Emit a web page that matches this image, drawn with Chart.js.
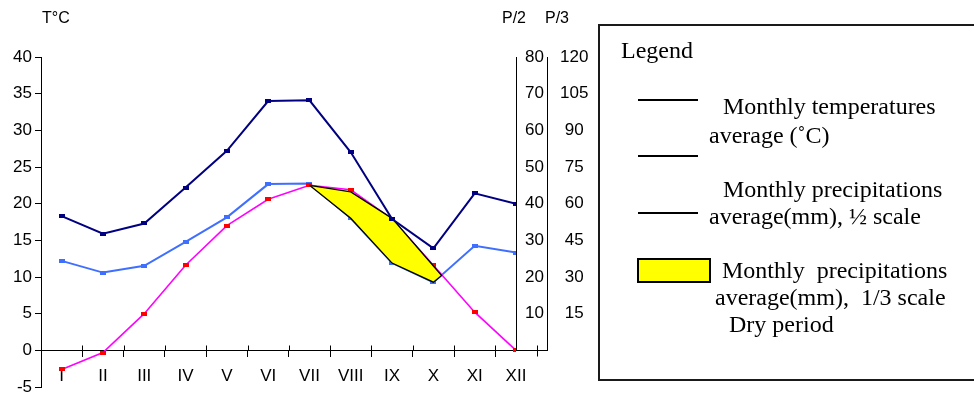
<!DOCTYPE html>
<html>

<head>
    <title>Climate diagram</title>
    <script src="https://cdn.jsdelivr.net/npm/chart.js"></script>
    <style>
        body {
            margin: 0;
            background: #fff;
            overflow: hidden;
        }

        #wrap {
            position: relative;
            width: 974px;
            height: 395px;
        }

        #climate {
            position: absolute;
            left: 0;
            top: 0;
        }

        .axisTitle {
            position: absolute;
            font: 16px "Liberation Sans", Arial, sans-serif;
            line-height: 16px;
            color: #000;
        }

        #legend {
            position: absolute;
            left: 598px;
            top: 24px;
            width: 420px;
            height: 357px;
            border: 2px solid #1a1a1a;
            box-sizing: border-box;
            font-family: "Liberation Serif", "Times New Roman", serif;
            font-size: 24px;
            color: #000;
        }

        #legend .txt {
            position: absolute;
            line-height: 24px;
            white-space: pre;
        }

        #legend .key {
            position: absolute;
            width: 60px;
            height: 2px;
            background: #000;
        }

        #legend .dry {
            position: absolute;
            width: 74px;
            height: 25px;
            background: #ffff00;
            border: 2px solid #000;
            box-sizing: border-box;
        }
    </style>
</head>

<body>
    <div id="wrap">
        <canvas id="climate" width="974" height="395"></canvas>

        <span class="axisTitle" style="left:42px; top:10px">T°C</span>
        <span class="axisTitle" style="left:502px; top:10px">P/2</span>
        <span class="axisTitle" style="left:545px; top:10px">P/3</span>

        <div id="legend">
            <div class="txt" style="left:21px; top:12px">Legend</div>
            <div class="key" style="left:38px; top:73px"></div>
            <div class="txt" style="left:123px; top:68px">Monthly temperatures</div>
            <div class="txt" style="left:109px; top:97px">average (˚C)</div>
            <div class="key" style="left:38px; top:129px"></div>
            <div class="txt" style="left:123px; top:151px">Monthly precipitations</div>
            <div class="key" style="left:38px; top:186px"></div>
            <div class="txt" style="left:109px; top:178px">average(mm), ½ scale</div>
            <div class="dry" style="left:37px; top:232px"></div>
            <div class="txt" style="left:122px; top:232px">Monthly  precipitations</div>
            <div class="txt" style="left:115px; top:259px">average(mm),  1/3 scale</div>
            <div class="txt" style="left:129px; top:286px">Dry period</div>
        </div>
    </div>

    <script>
        const months = ['I', 'II', 'III', 'IV', 'V', 'VI', 'VII', 'VIII', 'IX', 'X', 'XI', 'XII'];

        // monthly mean temperature, °C
        const temperature = [-2.6, -0.3, 5.0, 11.6, 17.0, 20.6, 22.5, 21.9, 17.9, 11.6, 5.2, 0.0];

        // monthly precipitation values, read once on the P/2 axis and once on the P/3 axis
        const precipitation = [36.6, 31.8, 34.6, 44.4, 54.4, 68.0, 68.2, 54.0, 35.8, 27.8, 42.8, 40.0];

        // outline of the dry period (month index, °C), going round the shape
        const dryMonth = [6, 7, 8, 9.2, 9, 8, 7, 6];
        const dryTemp = [22.5, 21.6, 18.0, 10.2, 9.3, 11.9, 18.0, 22.5];

        const tempTicks = { min: -5, max: 40, step: 5 };
        const halfTicks = { min: -10, max: 80, step: 10 };
        const thirdTicks = { min: -15, max: 120, step: 15 };

        const axisFont = { family: '"Liberation Sans", Arial, sans-serif', size: 17 };

        // small flat square markers like the ones in the original spreadsheet chart
        function marker(color) {
            const c = document.createElement('canvas');
            c.width = 6;
            c.height = 4;
            const g = c.getContext('2d');
            g.fillStyle = color;
            g.fillRect(0, 0, 6, 4);
            return c;
        }

        const toPoints = arr => arr.map((v, i) => ({ x: i, y: v }));

        // fixed axis widths; no extra room reserved for the end labels
        const fixWidth = w => s => {
            s.width = w;
            s.paddingTop = 0;
            s.paddingBottom = 0;
        };

        // P/2 and P/3 axis lines stop at zero, the base line runs on to the P/3 axis,
        // and the month ticks also poke up above the base line
        const precipAxes = {
            id: 'precipAxes',
            afterDraw(chart) {
                const { ctx, scales } = chart;
                const { x, y, yP2, yP3 } = scales;
                const top = Math.round(yP2.getPixelForValue(halfTicks.max));
                const base = Math.round(y.getPixelForValue(0)) + 0.5;
                ctx.save();
                ctx.strokeStyle = '#000';
                ctx.lineWidth = 1;
                ctx.beginPath();
                ctx.moveTo(yP2.left + 0.5, top);
                ctx.lineTo(yP2.left + 0.5, base);
                ctx.moveTo(yP3.left + 0.5, top);
                ctx.lineTo(yP3.left + 0.5, base);
                ctx.moveTo(x.right, base);
                ctx.lineTo(yP3.left + 1, base);
                for (let i = 0; i < months.length; i++) {
                    const tx = Math.round(x.getPixelForValue(i + 0.5)) + 0.5;
                    ctx.moveTo(tx, base - 5);
                    ctx.lineTo(tx, i === months.length - 1 ? base + 6 : base);
                }
                ctx.stroke();
                ctx.restore();
            }
        };

        new Chart(document.getElementById('climate'), {
            type: 'line',
            data: {
                datasets: [{
                    label: 'Precipitation P/2',
                    data: toPoints(precipitation),
                    yAxisID: 'yP2',
                    borderColor: '#000080',
                    borderWidth: 2,
                    pointStyle: marker('#000080'),
                    order: 0
                }, {
                    label: 'Dry period',
                    data: dryMonth.map((m, i) => ({ x: m, y: dryTemp[i] })),
                    yAxisID: 'y',
                    borderColor: '#000',
                    borderWidth: 1.3,
                    backgroundColor: '#ffff00',
                    fill: 'shape',
                    pointRadius: 0,
                    order: 1
                }, {
                    label: 'Temperature',
                    data: toPoints(temperature),
                    yAxisID: 'y',
                    borderColor: '#ff00ff',
                    borderWidth: 1.6,
                    pointStyle: marker('#ff0000'),
                    order: 2
                }, {
                    label: 'Precipitation P/3',
                    data: toPoints(precipitation),
                    yAxisID: 'yP3',
                    borderColor: '#3f6fff',
                    borderWidth: 2,
                    pointStyle: marker('#3f6fff'),
                    order: 3
                }]
            },
            options: {
                responsive: false,
                animation: false,
                events: [],
                layout: {
                    padding: { left: 0, top: 57, right: 375, bottom: 8 }
                },
                plugins: {
                    legend: { display: false },
                    tooltip: { enabled: false }
                },
                scales: {
                    x: {
                        type: 'linear',
                        position: { y: 0 },
                        min: -0.5,
                        max: 11,
                        border: { color: '#000', width: 1 },
                        grid: {
                            drawOnChartArea: false,
                            tickLength: 6,
                            tickColor: ctx => Number.isInteger(ctx.tick.value) ? 'rgba(0,0,0,0)' : '#000'
                        },
                        ticks: {
                            stepSize: 0.5,
                            autoSkip: false,
                            maxTicksLimit: 40,
                            maxRotation: 0,
                            padding: 10,
                            color: '#000',
                            font: axisFont,
                            callback: v => Number.isInteger(v) ? months[v] : ''
                        }
                    },
                    y: {
                        position: 'left',
                        min: tempTicks.min,
                        max: tempTicks.max,
                        afterFit: fixWidth(41),
                        border: { color: '#000', width: 1 },
                        grid: { drawOnChartArea: false, tickLength: 6, tickColor: '#000' },
                        ticks: { stepSize: tempTicks.step, padding: 3, color: '#000', font: axisFont }
                    },
                    yP2: {
                        position: 'right',
                        min: halfTicks.min,
                        max: halfTicks.max,
                        afterFit: fixWidth(31),
                        border: { display: false },
                        grid: { display: false, drawTicks: false },
                        ticks: {
                            stepSize: halfTicks.step,
                            padding: 9,
                            color: '#000',
                            font: axisFont,
                            callback: v => v > 0 ? v : ''
                        }
                    },
                    yP3: {
                        position: 'right',
                        min: thirdTicks.min,
                        max: thirdTicks.max,
                        afterFit: fixWidth(52),
                        border: { display: false },
                        grid: { display: false, drawTicks: false },
                        ticks: {
                            stepSize: thirdTicks.step,
                            padding: 13,
                            crossAlign: 'center',
                            color: '#000',
                            font: axisFont,
                            callback: v => v > 0 ? v : ''
                        }
                    }
                }
            },
            plugins: [precipAxes]
        });
    </script>
</body>

</html>
